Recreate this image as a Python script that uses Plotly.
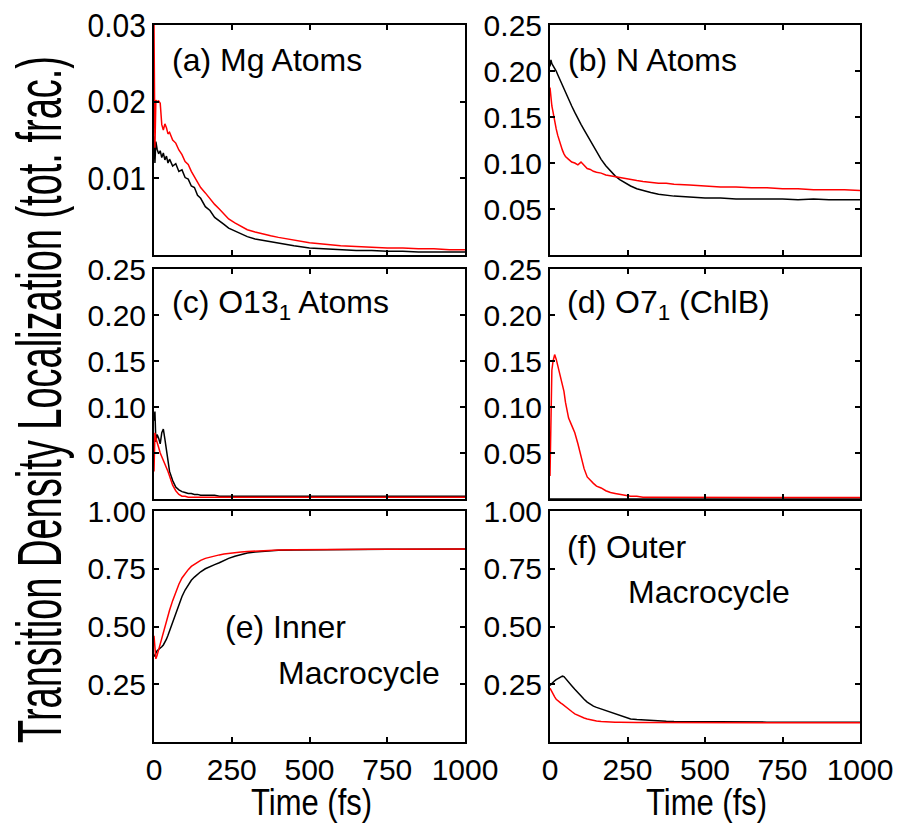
import plotly.graph_objects as go
from plotly.subplots import make_subplots

# ---------------- data ----------------
time_fs = [0, 3, 6, 10, 15, 20, 25, 30, 35, 40, 45, 50, 60, 70, 80, 90, 100, 110, 120, 130,
           140, 150, 165, 180, 195, 210, 225, 240, 260, 280, 300, 325, 350, 375, 400, 450,
           500, 550, 600, 650, 700, 750, 800, 850, 900, 950, 1000]

mg_black = [0.0155, 0.0120, 0.0148, 0.0138, 0.0132, 0.0136, 0.0127, 0.0133, 0.0124, 0.0129,
            0.0120, 0.0125, 0.0116, 0.0119, 0.0109, 0.0111, 0.0101, 0.0099, 0.0090, 0.0088,
            0.0078, 0.0074, 0.0063, 0.0058, 0.0049, 0.0045, 0.0040, 0.0035, 0.0031, 0.0027,
            0.0024, 0.0021, 0.0019, 0.0017, 0.0015, 0.0012, 0.0009, 0.0008, 0.0007, 0.0006,
            0.0006, 0.0005, 0.0005, 0.0004, 0.0004, 0.0004, 0.0004]
mg_red = [0.0300, 0.0140, 0.0202, 0.0200, 0.0201, 0.0198, 0.0170, 0.0163, 0.0171, 0.0166,
          0.0158, 0.0160, 0.0150, 0.0146, 0.0137, 0.0131, 0.0122, 0.0118, 0.0109, 0.0102,
          0.0094, 0.0088, 0.0081, 0.0073, 0.0066, 0.0060, 0.0053, 0.0047, 0.0042, 0.0037,
          0.0033, 0.0030, 0.0027, 0.0025, 0.0023, 0.0019, 0.0016, 0.0014, 0.0012, 0.0011,
          0.0010, 0.0009, 0.0009, 0.0008, 0.0008, 0.0007, 0.0007]

n_black = [0.205, 0.212, 0.208, 0.206, 0.203, 0.200, 0.196, 0.192, 0.188, 0.185,
           0.181, 0.178, 0.170, 0.162, 0.155, 0.148, 0.142, 0.136, 0.130, 0.124,
           0.118, 0.112, 0.104, 0.097, 0.091, 0.086, 0.082, 0.079, 0.075, 0.072,
           0.070, 0.068, 0.066, 0.065, 0.064, 0.063, 0.062, 0.062, 0.061, 0.061,
           0.061, 0.061, 0.060, 0.061, 0.060, 0.060, 0.060]
n_red = [0.182, 0.170, 0.162, 0.155, 0.145, 0.137, 0.130, 0.124, 0.118, 0.114,
         0.110, 0.107, 0.104, 0.101, 0.100, 0.098, 0.101, 0.097, 0.094, 0.093,
         0.091, 0.090, 0.089, 0.087, 0.086, 0.085, 0.084, 0.083, 0.082, 0.081,
         0.080, 0.079, 0.078, 0.078, 0.077, 0.076, 0.075, 0.074, 0.074, 0.073,
         0.073, 0.072, 0.072, 0.071, 0.071, 0.071, 0.070]

o13_black = [0.085, 0.095, 0.062, 0.070, 0.066, 0.060, 0.072, 0.076, 0.065, 0.052,
             0.040, 0.030, 0.020, 0.013, 0.010, 0.008, 0.007, 0.006, 0.006, 0.005,
             0.005, 0.004, 0.004, 0.004, 0.004, 0.003, 0.003, 0.003, 0.003, 0.003,
             0.003, 0.003, 0.003, 0.003, 0.003, 0.003, 0.003, 0.003, 0.003, 0.003,
             0.003, 0.003, 0.003, 0.003, 0.003, 0.003, 0.003]
o13_red = [0.030, 0.072, 0.066, 0.060, 0.056, 0.050, 0.046, 0.044, 0.040, 0.036,
           0.030, 0.025, 0.015, 0.009, 0.005, 0.003, 0.003, 0.002, 0.002, 0.002,
           0.002, 0.002, 0.002, 0.002, 0.002, 0.002, 0.002, 0.002, 0.002, 0.002,
           0.002, 0.002, 0.002, 0.002, 0.002, 0.002, 0.002, 0.002, 0.002, 0.002,
           0.002, 0.002, 0.002, 0.002, 0.002, 0.002, 0.002]

o7_black = [0.0] * 47
o7_red = [0.025, 0.110, 0.140, 0.150, 0.157, 0.152, 0.145, 0.138, 0.130, 0.126,
          0.117, 0.105, 0.088, 0.080, 0.072, 0.060, 0.045, 0.033, 0.024, 0.020,
          0.017, 0.014, 0.012, 0.009, 0.007, 0.006, 0.005, 0.004, 0.003, 0.003,
          0.002, 0.002, 0.002, 0.0015, 0.0015, 0.0015, 0.0015, 0.0015, 0.0015, 0.0015,
          0.0015, 0.0015, 0.0015, 0.0015, 0.0015, 0.0015, 0.0015]

inner_black = [0.370, 0.375, 0.385, 0.395, 0.400, 0.405, 0.412, 0.420, 0.430, 0.445,
               0.462, 0.480, 0.520, 0.560, 0.595, 0.630, 0.658, 0.682, 0.700, 0.714,
               0.727, 0.737, 0.750, 0.760, 0.768, 0.776, 0.786, 0.795, 0.804, 0.812,
               0.818, 0.823, 0.826, 0.828, 0.830, 0.831, 0.832, 0.833, 0.833, 0.833,
               0.834, 0.834, 0.834, 0.834, 0.835, 0.835, 0.835]
inner_red = [0.460, 0.400, 0.360, 0.375, 0.400, 0.425, 0.450, 0.475, 0.500, 0.525,
             0.548, 0.570, 0.612, 0.650, 0.683, 0.710, 0.730, 0.746, 0.760, 0.770,
             0.779, 0.786, 0.795, 0.801, 0.806, 0.810, 0.814, 0.817, 0.820, 0.823,
             0.825, 0.827, 0.829, 0.830, 0.831, 0.832, 0.833, 0.833, 0.833, 0.834,
             0.834, 0.834, 0.834, 0.835, 0.835, 0.835, 0.835]

outer_black = [0.245, 0.250, 0.255, 0.258, 0.265, 0.270, 0.274, 0.278, 0.282, 0.285,
               0.283, 0.276, 0.260, 0.244, 0.228, 0.212, 0.198, 0.185, 0.173, 0.163,
               0.155, 0.150, 0.143, 0.135, 0.127, 0.120, 0.113, 0.107, 0.100, 0.097,
               0.095, 0.093, 0.091, 0.090, 0.089, 0.088, 0.087, 0.086, 0.086, 0.086,
               0.086, 0.086, 0.085, 0.085, 0.085, 0.085, 0.085]
outer_red = [0.233, 0.225, 0.215, 0.205, 0.195, 0.185, 0.178, 0.172, 0.168, 0.164,
             0.158, 0.153, 0.143, 0.132, 0.122, 0.115, 0.109, 0.104, 0.100, 0.096,
             0.093, 0.091, 0.089, 0.087, 0.086, 0.085, 0.085, 0.084, 0.084, 0.084,
             0.084, 0.084, 0.083, 0.083, 0.083, 0.083, 0.083, 0.083, 0.083, 0.083,
             0.083, 0.083, 0.083, 0.083, 0.083, 0.083, 0.083]

x_ticks = [0, 250, 500, 750, 1000]
x_ticklabels = ["0", "250", "500", "750", "1000"]
mg_ticks = [0.01, 0.02, 0.03]
mg_ticklabels = ["0.01", "0.02", "0.03"]
small_ticks = [0.05, 0.10, 0.15, 0.20, 0.25]
small_ticklabels = ["0.05", "0.10", "0.15", "0.20", "0.25"]
big_ticks = [0.25, 0.50, 0.75, 1.00]
big_ticklabels = ["0.25", "0.50", "0.75", "1.00"]

panel_titles = ["(a) Mg Atoms", "(b) N Atoms", "(c) O13<sub>1</sub> Atoms",
                "(d) O7<sub>1</sub> (ChlB)"]
y_title = "Transition Density Localization (tot. frac.)"
x_title = "Time (fs)"

# ---------------- figure ----------------
W, H = 899, 827
FONT = "Liberation Sans, Arial, Helvetica, sans-serif"

fig = make_subplots(rows=3, cols=2)

panels = [
    (1, 1, mg_black, mg_red, [0, 0.03], mg_ticks, mg_ticklabels),
    (1, 2, n_black, n_red, [0, 0.25], small_ticks, small_ticklabels),
    (2, 1, o13_black, o13_red, [0, 0.25], small_ticks, small_ticklabels),
    (2, 2, o7_black, o7_red, [0, 0.25], small_ticks, small_ticklabels),
    (3, 1, inner_black, inner_red, [0, 1], big_ticks, big_ticklabels),
    (3, 2, outer_black, outer_red, [0, 1], big_ticks, big_ticklabels),
]

col_px = {1: (154, 465), 2: (550, 860)}
row_px = {1: (25, 255), 2: (269, 499), 3: (511, 742)}

for r, c, yb, yr, yrange, yt, ytl in panels:
    fig.add_trace(go.Scatter(x=time_fs, y=yb, mode="lines",
                             line=dict(color="black", width=1.5), showlegend=False),
                  row=r, col=c)
    fig.add_trace(go.Scatter(x=time_fs, y=yr, mode="lines",
                             line=dict(color="#ff0000", width=1.5), showlegend=False),
                  row=r, col=c)
    x0, x1 = col_px[c]
    y0, y1 = row_px[r]
    common = dict(showline=True, linecolor="black", linewidth=2, mirror="ticks",
                  ticks="inside", ticklen=5, tickwidth=1.5, tickcolor="black",
                  showgrid=False, zeroline=False, automargin=False,
                  tickfont=dict(family=FONT, size=30, color="black"))
    fig.update_xaxes(range=[0, 1000], tickvals=x_ticks, ticktext=x_ticklabels,
                     showticklabels=(r == 3), domain=[x0 / W, x1 / W],
                     row=r, col=c, **common)
    fig.update_yaxes(range=yrange, tickvals=yt, ticktext=ytl,
                     domain=[1 - y1 / H, 1 - y0 / H], row=r, col=c, **common)

annots = []


def add_text(txt, xpx, ypx, size=32, xanchor="left", angle=0):
    annots.append(dict(text=txt, x=xpx / W, y=1 - ypx / H, xref="paper", yref="paper",
                       xanchor=xanchor, yanchor="middle", showarrow=False,
                       textangle=angle,
                       font=dict(family=FONT, size=size, color="black")))


add_text(panel_titles[0], 170, 60)
add_text(panel_titles[1], 566, 60)
add_text(panel_titles[2], 170, 304)
add_text(panel_titles[3], 565, 304)
add_text("(e) Inner", 223, 627)
add_text("Macrocycle", 276, 673)
add_text("(f) Outer", 565, 547)
add_text("Macrocycle", 626, 592)
add_text(x_title, 311, 802, size=31, xanchor="center")
add_text(x_title, 706, 802, size=31, xanchor="center")
add_text(y_title, 40, 400, size=38, xanchor="center", angle=-90)

fig.update_layout(template="none", width=W, height=H,
                  margin=dict(l=0, r=0, t=0, b=0, pad=0), autosize=False,
                  paper_bgcolor="white", plot_bgcolor="white",
                  annotations=annots, showlegend=False)

# the reference's glyphs are drawn taller than they are wide; stretch the
# rendered text vertically (in each text's own frame) to mimic that
post = """
var gd = document.getElementById('{plot_id}');
function stretchText(el, s) {
  if (!el.hasAttribute('data-orig-tf')) {
    el.setAttribute('data-orig-tf', el.getAttribute('transform') || '');
  }
  var orig = el.getAttribute('data-orig-tf');
  el.setAttribute('transform', orig);
  var bb = el.getBBox();
  var cx = bb.x + bb.width / 2, cy = bb.y + bb.height / 2;
  el.setAttribute('transform', orig + ' translate(' + cx + ',' + cy + ') scale(1,' + s +
                  ') translate(' + (-cx) + ',' + (-cy) + ')');
}
function stretchAll() {
  gd.querySelectorAll('.annotation-text').forEach(function (t) {
    var s = t.textContent;
    if (s.indexOf('Transition') === 0) { stretchText(t, 1.65); }
    else if (s.indexOf('Time') === 0) { stretchText(t, 1.2); }
  });
  gd.querySelectorAll('.xtick text, .ytick text').forEach(function (t) {
    stretchText(t, 1.12);
  });
}
stretchAll();
setTimeout(stretchAll, 0);
if (gd.on) { gd.on('plotly_afterplot', stretchAll); }
"""

fig.write_html("out.html", post_script=post)
